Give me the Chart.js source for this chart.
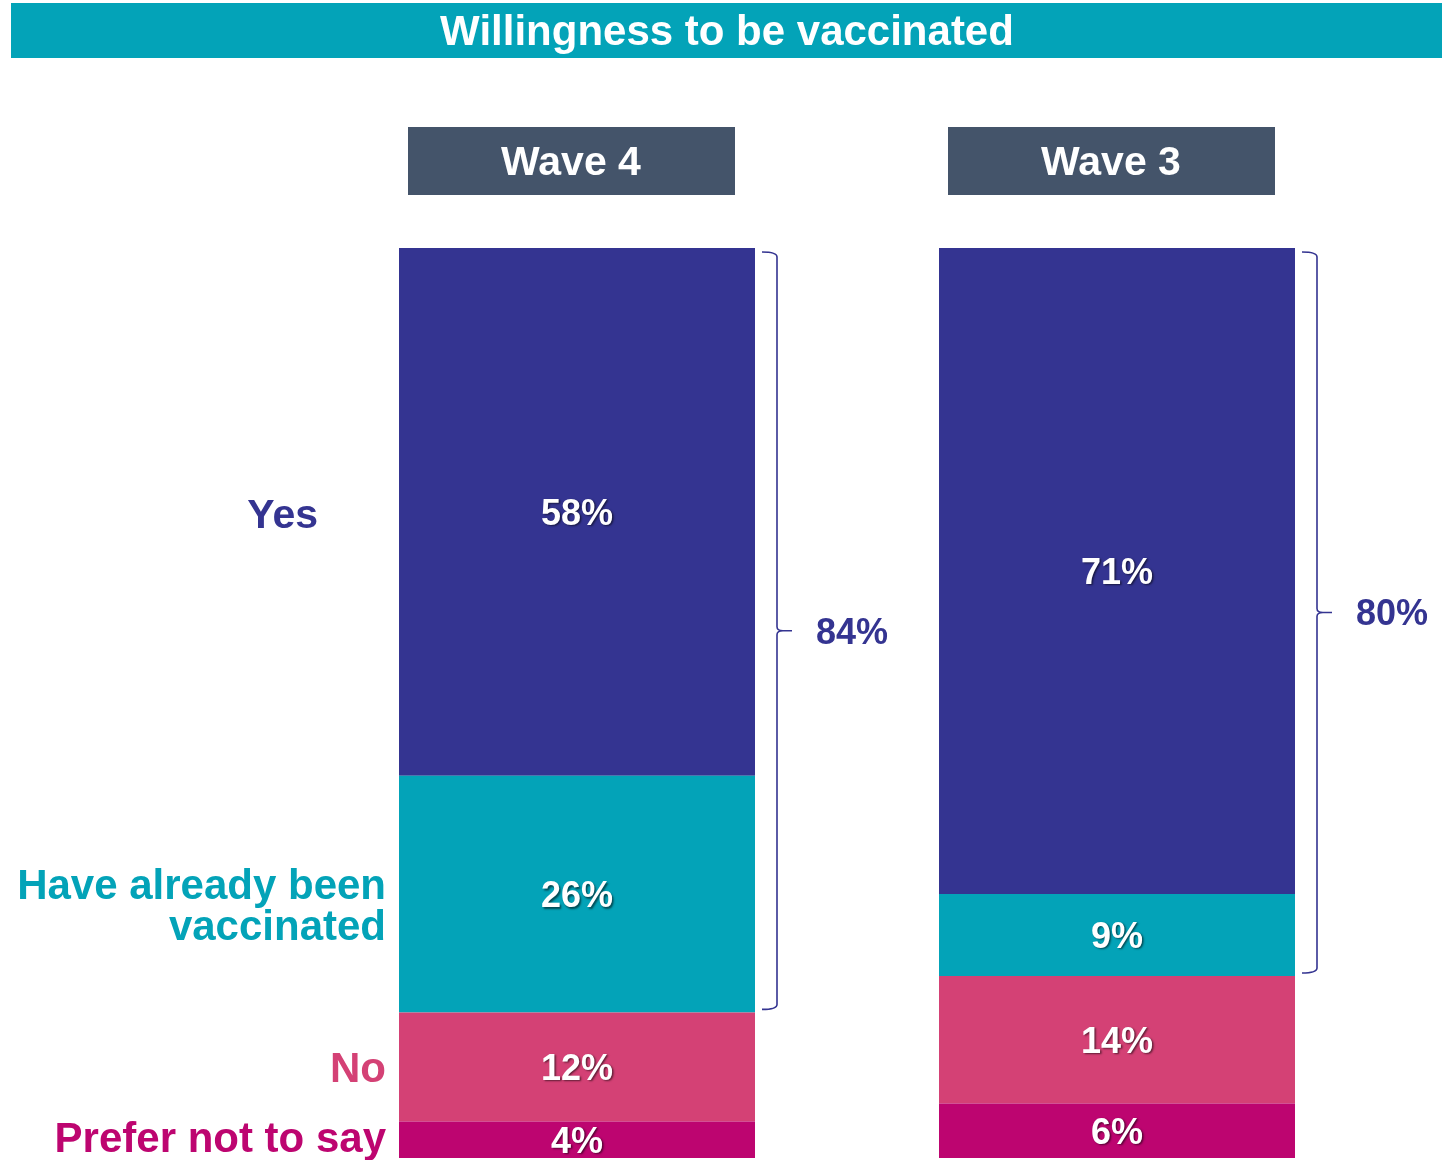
<!DOCTYPE html>
<html>
<head>
<meta charset="utf-8">
<script src="https://cdn.jsdelivr.net/npm/chart.js@4"></script>
<style>
  html,body{margin:0;padding:0;background:#fff;overflow:hidden;}
  #c{display:block;}
</style>
</head>
<body>
<canvas id="c" width="1442" height="1160"></canvas>
<script>
// ---- data ----
const categories = ["Wave 4", "Wave 3"];
const seriesNames = ["Prefer not to say", "No", "Have already been vaccinated", "Yes"];
const preferValues = [4, 6];
const noValues = [12, 14];
const alreadyValues = [26, 9];
const yesValues = [58, 71];
const bracketLabels = ["84%", "80%"];
const chartTitle = "Willingness to be vaccinated";

// ---- styles ----
const colors = {
  yes: "#343491",
  already: "#03A3B8",
  no: "#D44175",
  prefer: "#BD0570",
  header: "#44546A",
  banner: "#03A3B8"
};
const FONT = "'Liberation Sans', Arial, sans-serif";
const TY = 2; // text vertical nudge

const overlay = {
  id: "overlay",
  afterDatasetsDraw(chart) {
    const ctx = chart.ctx;
    const ys = chart.scales.y;
    ctx.save();

    // title banner
    ctx.fillStyle = colors.banner;
    ctx.fillRect(11, 3, 1431, 55);
    ctx.fillStyle = "#fff";
    ctx.font = "bold 42px " + FONT;
    ctx.textAlign = "center";
    ctx.textBaseline = "middle";
    ctx.fillText(chartTitle, 727, 31 + TY);

    const metas = chart.data.datasets.map((d, i) => chart.getDatasetMeta(i));
    categories.forEach((cat, ci) => {
      const bar = metas[0].data[ci];
      const cx = bar.x;
      const half = bar.width / 2;
      // header
      ctx.fillStyle = colors.header;
      ctx.fillRect(Math.round(cx - 6 - 163.5), 127, 327, 68);
      ctx.fillStyle = "#fff";
      ctx.font = "bold 41px " + FONT;
      ctx.textAlign = "center";
      ctx.textBaseline = "middle";
      ctx.fillText(cat, cx - 6, 162 + TY);

      // value labels
      ctx.font = "bold 36px " + FONT;
      ctx.shadowColor = "rgba(0,0,0,0.55)";
      ctx.shadowOffsetX = 1.5;
      ctx.shadowOffsetY = 1.5;
      ctx.shadowBlur = 2;
      metas.forEach((m, di) => {
        const el = m.data[ci];
        const v = chart.data.datasets[di].data[ci];
        const yc = (el.y + el.base) / 2;
        ctx.fillStyle = "#fff";
        ctx.fillText(v + "%", cx, yc + 1 + TY);
      });
      ctx.shadowColor = "transparent";
      ctx.shadowOffsetX = 0; ctx.shadowOffsetY = 0; ctx.shadowBlur = 0;

      // bracket over Yes + Have already
      const top = ys.getPixelForValue(100) + 4;
      const bottomVal = preferValues[ci] + noValues[ci];
      const bot = ys.getPixelForValue(bottomVal) - 3;
      const right = cx + half;
      const x0 = right + 7, x1 = right + 22, x2 = right + 37;
      const mid = (top + bot) / 2;
      const r = 5;
      ctx.strokeStyle = colors.yes;
      ctx.lineWidth = 1.6;
      ctx.beginPath();
      ctx.moveTo(x0, top);
      ctx.quadraticCurveTo(x1, top, x1, top + r);
      ctx.lineTo(x1, mid - 4);
      ctx.quadraticCurveTo(x1, mid, x1 + 6, mid);
      ctx.lineTo(x2, mid);
      ctx.moveTo(x1 + 6, mid);
      ctx.quadraticCurveTo(x1, mid, x1, mid + 4);
      ctx.lineTo(x1, bot - r);
      ctx.quadraticCurveTo(x1, bot, x0, bot);
      ctx.stroke();
      ctx.fillStyle = colors.yes;
      ctx.font = "bold 36px " + FONT;
      ctx.textAlign = "left";
      ctx.fillText(bracketLabels[ci], right + 61, mid + 1 + TY);
    });

    // category labels on the left (aligned to Wave 4 segments)
    ctx.textAlign = "right";
    ctx.textBaseline = "middle";
    const seg = (di) => {
      const el = metas[di].data[0];
      return (el.y + el.base) / 2;
    };
    ctx.fillStyle = colors.yes;
    ctx.font = "bold 41px " + FONT;
    ctx.fillText("Yes", 318, seg(3) + 3 + TY);
    ctx.font = "bold 42px " + FONT;
    ctx.fillStyle = colors.already;
    ctx.fillText("Have already been", 386, seg(2) - 9 + TY);
    ctx.fillText("vaccinated", 386, seg(2) + 32 + TY);
    ctx.fillStyle = colors.no;
    ctx.fillText("No", 386, seg(1) + 1 + TY);
    ctx.fillStyle = colors.prefer;
    ctx.fillText("Prefer not to say", 386, seg(0) - 1 + TY);

    ctx.restore();
  }
};

new Chart(document.getElementById("c"), {
  type: "bar",
  data: {
    labels: categories,
    datasets: [
      { label: seriesNames[0], data: preferValues, backgroundColor: colors.prefer },
      { label: seriesNames[1], data: noValues, backgroundColor: colors.no },
      { label: seriesNames[2], data: alreadyValues, backgroundColor: colors.already },
      { label: seriesNames[3], data: yesValues, backgroundColor: colors.yes }
    ]
  },
  options: {
    responsive: false,
    animation: false,
    layout: { padding: { left: 307, right: 55, top: 248, bottom: 2 } },
    datasets: { bar: { barPercentage: 1, categoryPercentage: 356 / 540, borderWidth: 0 } },
    scales: {
      x: { stacked: true, display: false },
      y: { stacked: true, display: false, min: 0, max: 100 }
    },
    plugins: { legend: { display: false }, tooltip: { enabled: false }, title: { display: false } }
  },
  plugins: [overlay]
});
</script>
</body>
</html>
